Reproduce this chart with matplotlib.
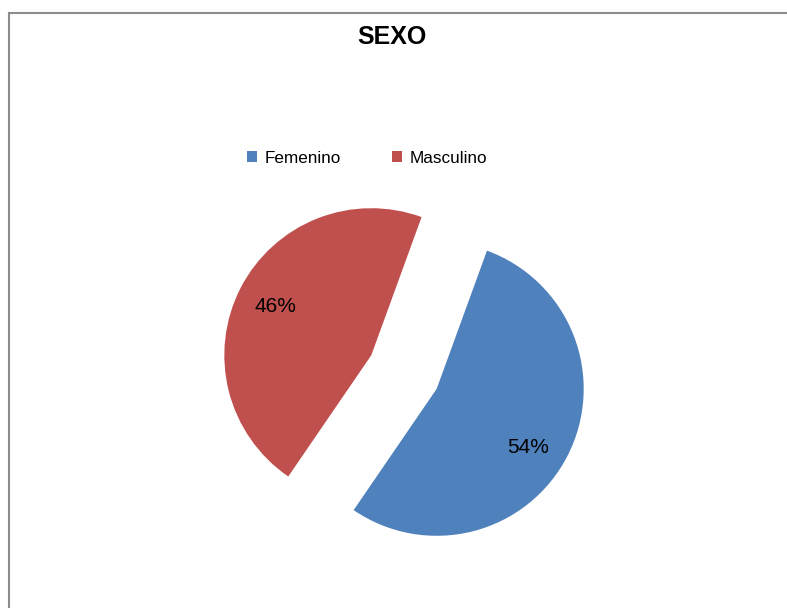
import matplotlib.pyplot as plt
from matplotlib.lines import Line2D
import numpy as np

categories = ['Femenino', 'Masculino']
values = [54, 46]
colors = ['#4F81BD', '#C0504D']
title = 'SEXO'

W, H = 787, 608
fig = plt.figure(figsize=(W / 100, H / 100), dpi=100)
fig.patch.set_facecolor('white')

# chart border (gray, right/bottom edges are cut off in the reference)
fig.add_artist(Line2D([9 / W, 9 / W], [0, 1 - 13 / H], color='#8c8c8c', lw=1.5))
fig.add_artist(Line2D([9 / W, 1], [1 - 13 / H, 1 - 13 / H], color='#8c8c8c', lw=1.5))

ax = fig.add_axes([0, 0, 1, 1])
r_px = 147.0
cx, cy = 404, 372
wedges, texts, autotexts = ax.pie(values, colors=colors, startangle=70, counterclock=False,
                                  explode=[0.25, 0.25], autopct='%1.0f%%', pctdistance=0.73,
                                  wedgeprops=dict(linewidth=0),
                                  textprops=dict(fontsize=15, family='Liberation Sans'))
# Excel puts the 54% label a bit lower than matplotlib does
x0, y0 = autotexts[0].get_position()
autotexts[0].set_position((x0 - 4 / r_px, y0 - 10 / r_px))
ax.set_aspect('auto')
ax.set_xlim(-cx / r_px, (W - cx) / r_px)
ax.set_ylim(-(H - cy) / r_px, cy / r_px)
ax.axis('off')

fig.text(392 / W, 1 - 37 / H, title, ha='center', va='center', fontsize=18,
         fontweight='bold', family='Liberation Sans')

leg = fig.legend(wedges, categories, loc='center', bbox_to_anchor=(367 / W, 1 - 158 / H),
                 ncol=2, frameon=False, handlelength=0.6, handleheight=0.6,
                 columnspacing=3.0, handletextpad=0.45, prop=dict(family='Liberation Sans', size=12.3))

fig.savefig('out.png', dpi=100)
